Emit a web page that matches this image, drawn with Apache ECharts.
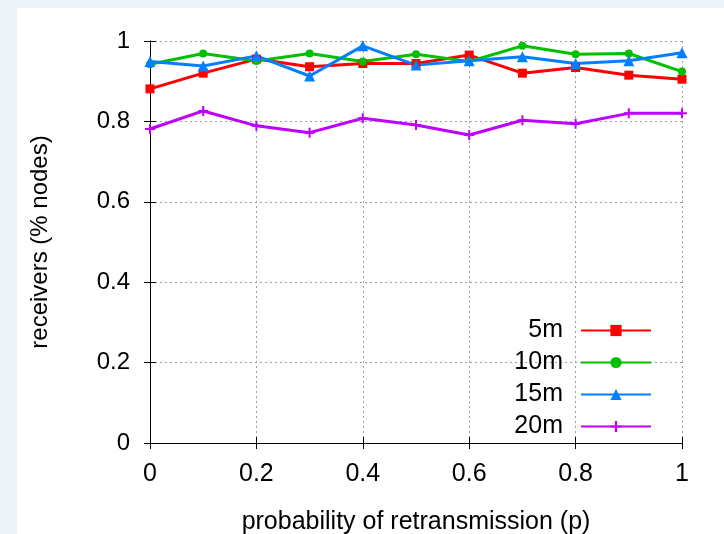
<!DOCTYPE html>
<html>
<head>
<meta charset="utf-8">
<script src="https://cdn.jsdelivr.net/npm/echarts@6/dist/echarts.min.js"></script>
<style>
    html, body { margin: 0; padding: 0; background: #eef3f7; }
    #chart { position: absolute; left: 17px; top: 8px; width: 707px; height: 526px; background: #ffffff; }
</style>
</head>
<body>
<div id="chart"></div>
<script>
// probability of retransmission
var probs = [0, 0.1, 0.2, 0.3, 0.4, 0.5, 0.6, 0.7, 0.8, 0.9, 1];
var seriesNames = ['5m', '10m', '15m', '20m'];
var recv5m  = [0.881, 0.920, 0.955, 0.936, 0.944, 0.944, 0.965, 0.920, 0.934, 0.915, 0.905];
var recv10m = [0.942, 0.969, 0.950, 0.969, 0.949, 0.967, 0.949, 0.988, 0.967, 0.969, 0.924];
var recv15m = [0.949, 0.938, 0.963, 0.913, 0.988, 0.940, 0.951, 0.961, 0.944, 0.951, 0.971];
var recv20m = [0.781, 0.826, 0.789, 0.772, 0.808, 0.791, 0.766, 0.803, 0.794, 0.820, 0.820];

var FONT = '"Liberation Sans", Arial, sans-serif';
var plusPath = 'path://M4,0H6V4H10V6H6V10H4V6H0V4H4Z';

function pairs(vals) {
    return probs.map(function (p, i) { return [p, vals[i]]; });
}

function mkSeries(name, vals, color, symbol, size) {
    return {
        name: name,
        type: 'line',
        data: pairs(vals),
        symbol: symbol,
        symbolSize: size,
        showAllSymbol: true,
        lineStyle: { width: 3, color: color },
        itemStyle: { color: color },
        z: 3
    };
}

var myChart = echarts.init(document.getElementById('chart'));

// 主轴 + 镜像轴（上/右只画刻度）
function axisBase(extra) {
    var a = {
        type: 'value',
        min: 0,
        max: 1,
        interval: 0.2,
        axisLine: { show: true, lineStyle: { color: '#000', width: 1 } },
        axisTick: { show: true, inside: true, length: 6, lineStyle: { color: '#000' } },
        splitLine: { show: false }
    };
    for (var k in extra) a[k] = extra[k];
    return a;
}

var option = {
    animation: false,
    textStyle: { fontFamily: FONT },
    grid: { left: 133, top: 33, right: 42, bottom: 91, outerBoundsMode: 'none', containLabel: false },
    legend: {
        orient: 'vertical',
        right: 72,
        top: 310,
        padding: 0,
        align: 'right',
        itemWidth: 70,
        itemHeight: 14,
        itemGap: 7,
        data: seriesNames,
        textStyle: { fontSize: 25, color: '#000', fontFamily: FONT, padding: [0, 13, 0, 0] }
    },
    xAxis: [
        axisBase({
            position: 'bottom',
            name: 'probability of retransmission (p)',
            nameLocation: 'middle',
            nameGap: 67,
            nameTextStyle: { fontSize: 25, color: '#000', fontFamily: FONT },
            axisLabel: { fontSize: 25, color: '#000', margin: 19, fontFamily: FONT },
            splitLine: { show: true, lineStyle: { color: '#a0a0a0', type: [2, 3], width: 1 } }
        }),
        axisBase({ position: 'top', axisLabel: { show: false } })
    ],
    yAxis: [
        axisBase({
            position: 'left',
            name: 'receivers (% nodes)',
            nameLocation: 'middle',
            nameGap: 98,
            nameTextStyle: { fontSize: 24, color: '#000', fontFamily: FONT },
            axisLabel: { fontSize: 24, color: '#000', margin: 20, fontFamily: FONT },
            splitLine: { show: true, lineStyle: { color: '#a0a0a0', type: [2, 3], width: 1 } }
        }),
        axisBase({ position: 'right', axisLabel: { show: false } })
    ],
    series: [
        mkSeries('5m', recv5m, '#ff0000', 'rect', 9),
        mkSeries('10m', recv10m, '#00c000', 'circle', 8),
        mkSeries('15m', recv15m, '#0080ff', 'triangle', 11),
        mkSeries('20m', recv20m, '#c000ff', plusPath, 10)
    ]
};

myChart.setOption(option);
</script>
</body>
</html>
